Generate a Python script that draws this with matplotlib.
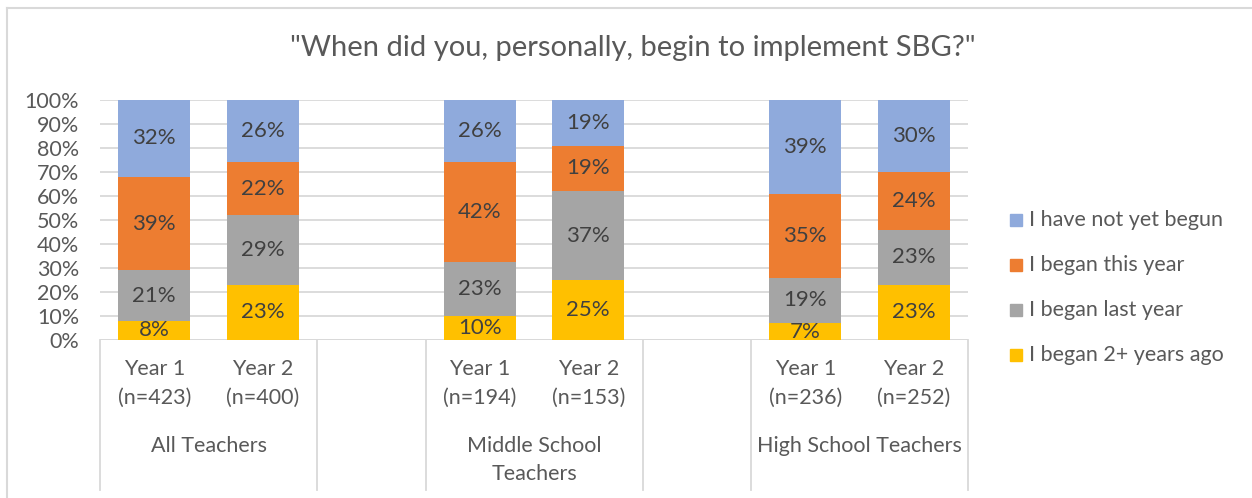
import numpy as np
import matplotlib.pyplot as plt
from matplotlib.lines import Line2D
from matplotlib.patches import Rectangle

plt.rcParams['font.family'] = ['Lato', 'DejaVu Sans']

# series, bottom to top
series = ["I began 2+ years ago", "I began last year", "I began this year", "I have not yet begun"]
colors = ["#FFC000", "#A5A5A5", "#ED7D31", "#8FAADC"]

years = ["Year 1", "Year 2", "Year 1", "Year 2", "Year 1", "Year 2"]
counts = ["(n=423)", "(n=400)", "(n=194)", "(n=153)", "(n=236)", "(n=252)"]
groups = ["All Teachers", "Middle School\nTeachers", "High School Teachers"]

two_plus = [8, 23, 10, 25, 7, 23]
last_year = [21, 29, 23, 37, 19, 23]
this_year = [39, 22, 42, 19, 35, 24]
not_yet = [32, 26, 26, 19, 39, 30]

# slot index of each bar (blank slots separate the groups)
slots = [0, 1, 3, 4, 6, 7]
nslots = 8

txt = "#595959"
grid = "#D9D9D9"
fs = 15.5

fig = plt.figure(figsize=(12.52, 4.98), dpi=100)
W, H = 1252, 498
x0, x1, ytop, ybot = 100, 968, 100, 340
ax = fig.add_axes([x0 / W, 1 - ybot / H, (x1 - x0) / W, (ybot - ytop) / H])

data = np.array([two_plus, last_year, this_year, not_yet], dtype=float)
pct = data / data.sum(axis=0) * 100
xs = np.array(slots) + 0.5
bw = 1 / 1.5
bottom = np.zeros(len(xs))
for i in range(len(series)):
    ax.bar(xs, pct[i], bw, bottom=bottom, color=colors[i], zorder=2)
    for x, b, h, v in zip(xs, bottom, pct[i], data[i]):
        ax.text(x, b + h / 2, f"{int(v)}%", ha="center", va="center",
                fontsize=16, color="#404040", zorder=3)
    bottom += pct[i]

ax.set_xlim(0, nslots)
ax.set_ylim(0, 100)
ax.set_yticks(np.arange(0, 101, 10))
ax.set_yticklabels([f"{t}%" for t in range(0, 101, 10)], fontsize=fs, color=txt)
ax.tick_params(axis="y", length=0, pad=15)
ax.set_xticks([])
ax.yaxis.grid(True, color=grid, lw=1.3, zorder=0)
for s in ax.spines.values():
    s.set_visible(False)
ax.axhline(0, color=grid, lw=1.3, zorder=1)

# multi-level category axis
slot_w = (x1 - x0) / nslots
def fx(s):
    return (x0 + s * slot_w) / W
def fy(py):
    return 1 - py / H

for b in [0, 2, 3, 5, 6, 8]:
    fig.add_artist(Line2D([fx(b), fx(b)], [fy(340), fy(490)], color=grid, lw=1.3))
for x, yr, n in zip(slots, years, counts):
    fig.text(fx(x + 0.5), fy(369), yr, ha="center", va="center", fontsize=fs, color=txt)
    fig.text(fx(x + 0.5), fy(398), n, ha="center", va="center", fontsize=fs, color=txt)
for gx, lab in zip([1, 4, 7], groups):
    for k, line in enumerate(lab.split("\n")):
        fig.text(fx(gx), fy(446 + 28 * k), line, ha="center", va="center",
                 fontsize=fs, color=txt)

fig.text(633 / W, fy(48), '"When did you, personally, begin to implement SBG?"',
         ha="center", va="center", fontsize=21, color=txt)

# legend
for i, (lab, c) in enumerate(zip(series[::-1], colors[::-1])):
    yy = 220 + i * 45
    fig.add_artist(Rectangle((1010 / W, fy(yy + 6)), 12 / W, 12 / H, color=c,
                             transform=fig.transFigure))
    fig.text(1029 / W, fy(yy), lab, ha="left", va="center", fontsize=fs, color=txt)

# chart frame
fig.add_artist(Line2D([7 / W, 1], [fy(8), fy(8)], color=grid, lw=1.5))
fig.add_artist(Line2D([7 / W, 7 / W], [0, fy(8)], color=grid, lw=1.5))

fig.savefig("out.png", dpi=100, facecolor="white")
